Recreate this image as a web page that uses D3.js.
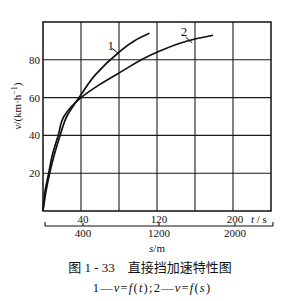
<!DOCTYPE html>
<html>
<head>
<meta charset="utf-8">
<script src="https://cdn.jsdelivr.net/npm/d3@7"></script>
<style>
  body { margin: 0; background: #fff; }
  svg { display: block; }
  text { font-family: "Liberation Serif", "DejaVu Serif", serif; fill: #111; }
  .cjk { font-family: "Liberation Serif", "Noto Sans CJK SC", serif; }
</style>
</head>
<body>
<div id="chart"></div>
<script>
// curve 1: v = f(t), t in s
const curve1T = [0, 3, 7, 12, 18, 25, 38, 55, 80, 96, 112];
const curve1V = [0, 10, 20, 30, 40, 50, 60, 72, 84, 90, 94];
// curve 2: v = f(s), s in m
const curve2S = [0, 20, 60, 100, 160, 220, 400, 600, 800, 1200, 1600, 1790];
const curve2V = [0, 10, 20, 30, 40, 50, 60, 67, 73, 84, 91, 93];

const yTicks = [20, 40, 60, 80];
const tTicks = [40, 120, 200];
const sTicks = [400, 1200, 2000];

const width = 282, height = 301;
const plot = {left: 43, right: 271, top: 22, bottom: 211};

const svg = d3.select('#chart').append('svg')
    .attr('width', width)
    .attr('height', height);

const xT = d3.scaleLinear().domain([0, 240]).range([plot.left, plot.right]);
const xS = d3.scaleLinear().domain([0, 2400]).range([plot.left, plot.right]);
const y = d3.scaleLinear().domain([0, 100]).range([plot.bottom, plot.top]);

// grid
const grid = svg.append('g').attr('stroke', '#1a1a1a').attr('stroke-width', 1.1);
d3.range(40, 240, 40).forEach(t => {
    grid.append('line')
        .attr('x1', xT(t)).attr('x2', xT(t))
        .attr('y1', y(0)).attr('y2', y(100));
});
d3.range(20, 100, 20).forEach(v => {
    grid.append('line')
        .attr('x1', xT(0)).attr('x2', xT(240))
        .attr('y1', y(v)).attr('y2', y(v));
});
svg.append('rect')
    .attr('x', xT(0)).attr('y', y(100))
    .attr('width', xT(240) - xT(0)).attr('height', y(0) - y(100))
    .attr('fill', 'none').attr('stroke', '#111').attr('stroke-width', 1.5);

// y tick labels
svg.append('g').selectAll('text').data(yTicks).join('text')
    .attr('x', plot.left - 3)
    .attr('y', d => y(d) + 4)
    .attr('text-anchor', 'end')
    .attr('font-size', 11)
    .text(d => d);

// y title
const yTitle = svg.append('text')
    .attr('transform', 'translate(21,106) rotate(-90)')
    .attr('text-anchor', 'middle')
    .attr('font-size', 11);
yTitle.append('tspan').attr('font-style', 'italic').text('v');
yTitle.append('tspan').text('/(km·h');
yTitle.append('tspan').attr('font-size', 8).attr('dy', -4).text('−1');
yTitle.append('tspan').attr('dy', 4).text(')');

// time labels
svg.append('g').selectAll('text').data(tTicks).join('text')
    .attr('x', d => xT(d) + 2)
    .attr('y', plot.bottom + 12)
    .attr('text-anchor', 'middle')
    .attr('font-size', 11)
    .text(d => d);
const tLab = svg.append('text').attr('x', 251).attr('y', plot.bottom + 12).attr('font-size', 11);
tLab.append('tspan').attr('font-style', 'italic').text('t');
tLab.append('tspan').text(' / s');

// distance axis
const sAxisY = 226;
const sAxis = svg.append('g').attr('stroke', '#111').attr('stroke-width', 1.1);
sAxis.append('line').attr('x1', xS(0) + 2).attr('x2', xS(2400) + 2)
    .attr('y1', sAxisY).attr('y2', sAxisY);
[0, 2400].forEach(s => {
    sAxis.append('line').attr('x1', xS(s) + 2).attr('x2', xS(s) + 2)
        .attr('y1', sAxisY - 4).attr('y2', sAxisY);
});
sTicks.forEach(s => {
    sAxis.append('line').attr('x1', xS(s) + 2).attr('x2', xS(s) + 2)
        .attr('y1', sAxisY - 3).attr('y2', sAxisY);
});
svg.append('g').selectAll('text').data(sTicks).join('text')
    .attr('x', d => xS(d) + 2)
    .attr('y', sAxisY + 11)
    .attr('text-anchor', 'middle')
    .attr('font-size', 11)
    .text(d => d);
const sLab = svg.append('text').attr('x', xS(1200)).attr('y', 252)
    .attr('text-anchor', 'middle').attr('font-size', 11);
sLab.append('tspan').attr('font-style', 'italic').text('s');
sLab.append('tspan').text('/m');

// curves
const line1 = d3.line()
    .x((d, i) => xT(curve1T[i]))
    .y(d => y(d))
    .curve(d3.curveMonotoneY);
const line2 = d3.line()
    .x((d, i) => xS(curve2S[i]))
    .y(d => y(d))
    .curve(d3.curveMonotoneY);

svg.append('path').attr('d', line1(curve1V))
    .attr('fill', 'none').attr('stroke', '#111').attr('stroke-width', 1.7);
svg.append('path').attr('d', line2(curve2V))
    .attr('fill', 'none').attr('stroke', '#111').attr('stroke-width', 1.7);

// curve labels with leaders
svg.append('text').attr('x', xT(68)).attr('y', y(85)).attr('font-size', 13).text('1');
svg.append('line')
    .attr('x1', xT(73)).attr('y1', y(86))
    .attr('x2', xT(79)).attr('y2', y(83.5))
    .attr('stroke', '#111').attr('stroke-width', 1);
svg.append('text').attr('x', xS(1450)).attr('y', y(92.5)).attr('font-size', 13).text('2');
svg.append('line')
    .attr('x1', xS(1500)).attr('y1', y(92))
    .attr('x2', xS(1570)).attr('y2', y(89))
    .attr('stroke', '#111').attr('stroke-width', 1);

// caption
svg.append('text').attr('class', 'cjk')
    .attr('x', 150).attr('y', 272)
    .attr('text-anchor', 'middle')
    .attr('font-size', 13)
    .text('图 1 - 33　直接挡加速特性图');
const cap2 = svg.append('text')
    .attr('x', 152).attr('y', 292)
    .attr('text-anchor', 'middle')
    .attr('font-size', 12.5)
    .attr('letter-spacing', 1.2);
cap2.append('tspan').text('1—');
cap2.append('tspan').attr('font-style', 'italic').text('v');
cap2.append('tspan').text('=');
cap2.append('tspan').attr('font-style', 'italic').text('f');
cap2.append('tspan').text('(');
cap2.append('tspan').attr('font-style', 'italic').text('t');
cap2.append('tspan').text(');2—');
cap2.append('tspan').attr('font-style', 'italic').text('v');
cap2.append('tspan').text('=');
cap2.append('tspan').attr('font-style', 'italic').text('f');
cap2.append('tspan').text('(');
cap2.append('tspan').attr('font-style', 'italic').text('s');
cap2.append('tspan').text(')');
</script>
</body>
</html>
